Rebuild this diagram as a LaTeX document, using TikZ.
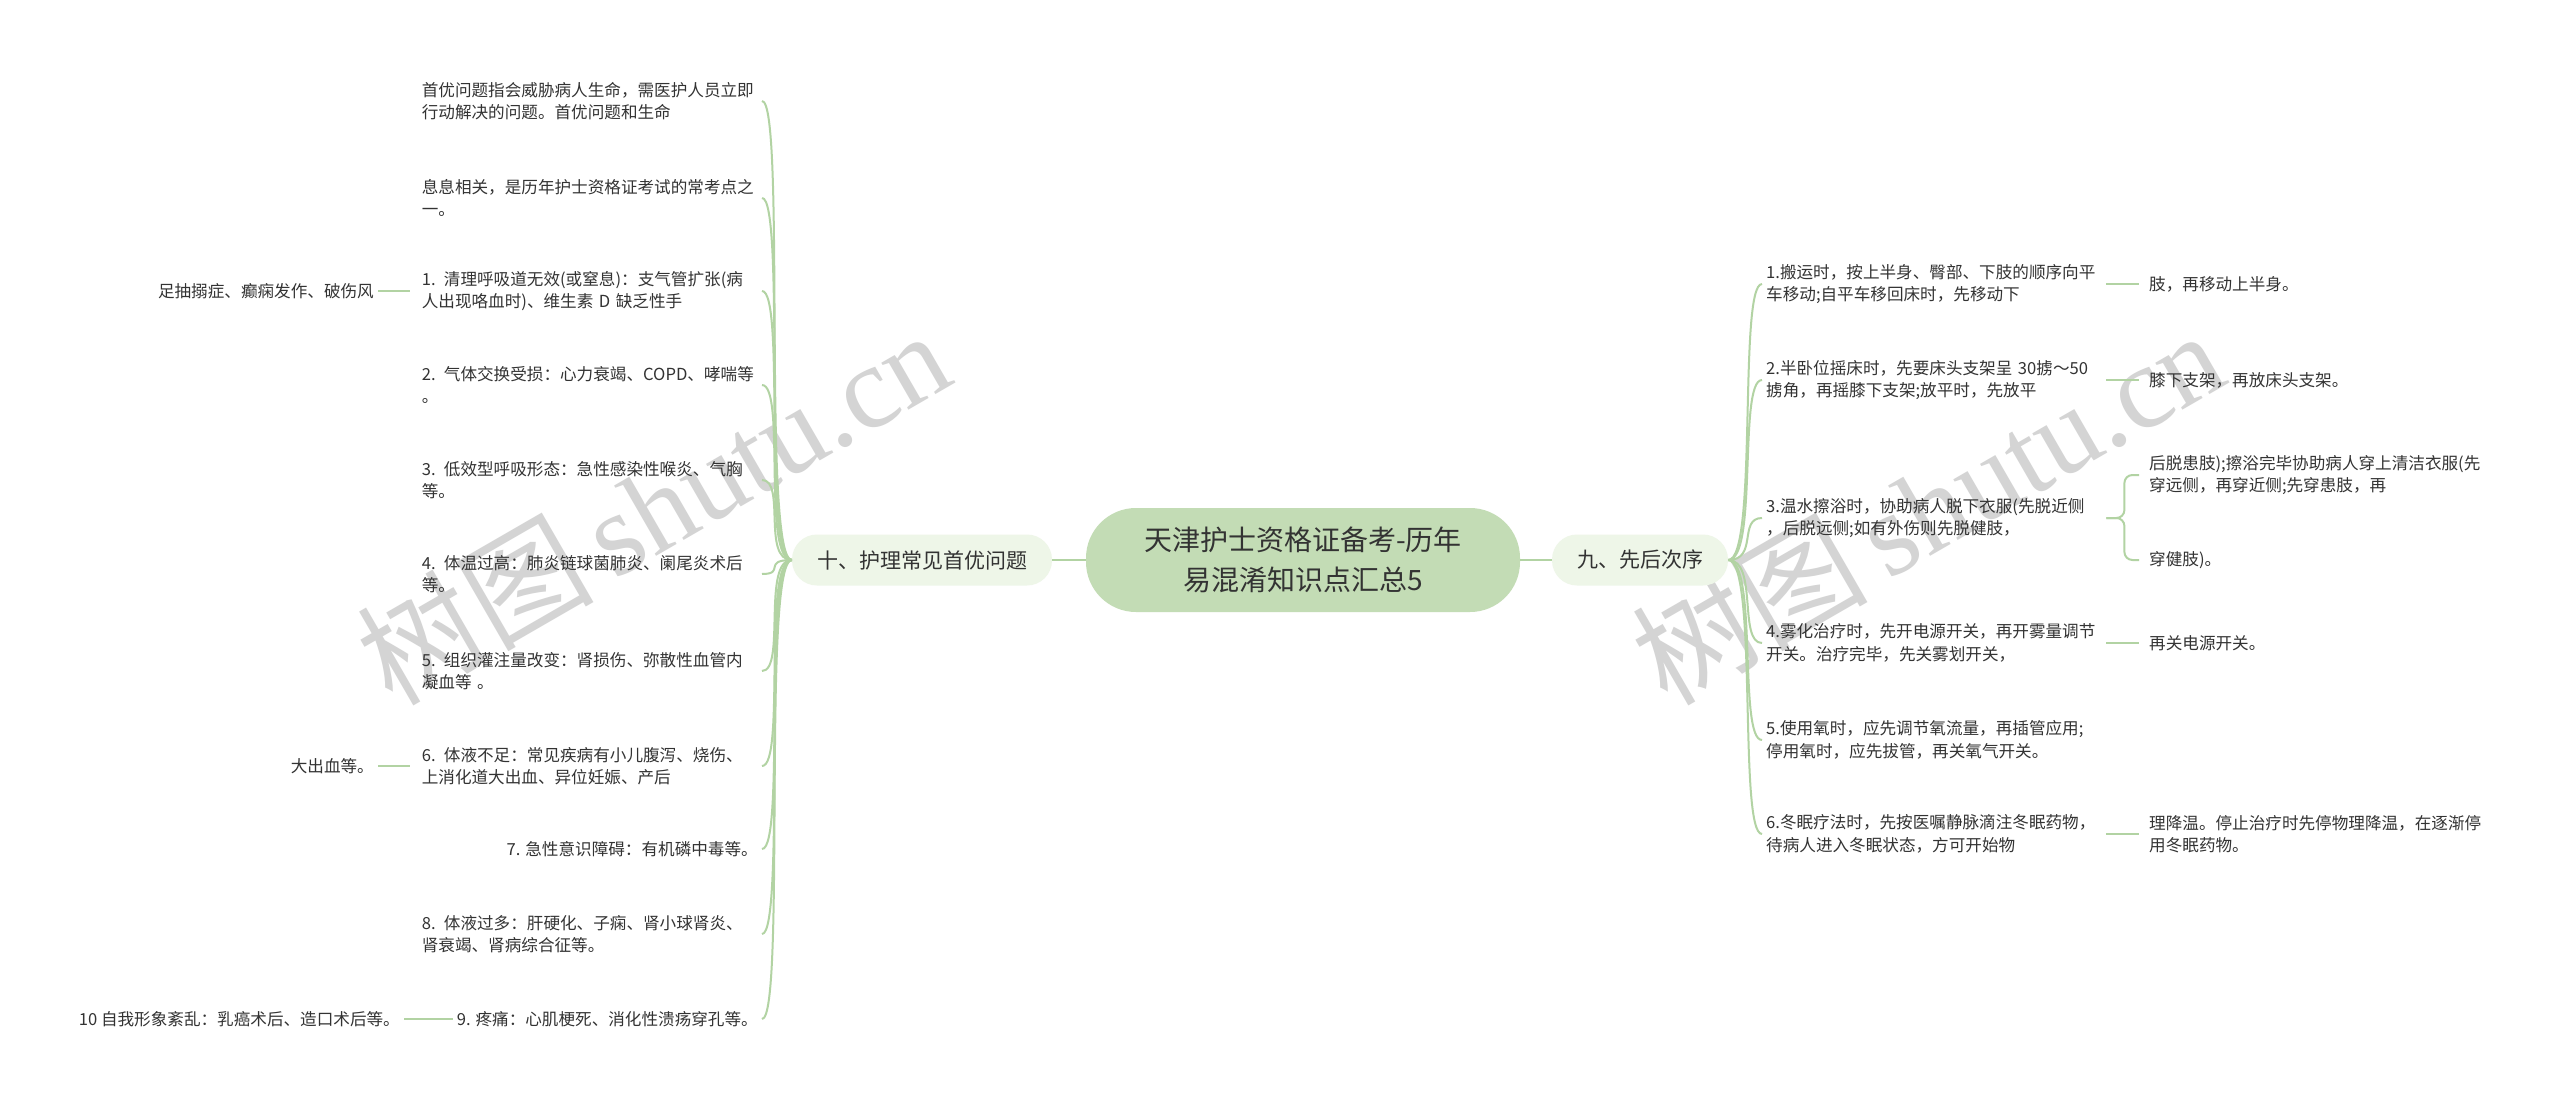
\documentclass[tikz,border=0pt]{standalone}
\usepackage{fontspec}
\setmainfont{Noto Sans CJK SC}
\newfontfamily\wmserif{Liberation Serif}
\usetikzlibrary{calc}
\definecolor{linec}{HTML}{B2D3A3}
\definecolor{rootc}{HTML}{C3DCB5}
\definecolor{branchc}{HTML}{EEF6E8}
\definecolor{txtc}{HTML}{333333}
\definecolor{wmc}{HTML}{D4D4D4}
\begin{document}
\begin{tikzpicture}[x=1pt,y=-1pt,
  rootbox/.style={fill=rootc, rounded corners=50pt, minimum width=434pt, minimum height=104pt, align=center, font=\fontsize{28}{40}\selectfont, text=txtc},
  branchbox/.style={fill=branchc, rounded corners=25pt, minimum height=51pt, inner xsep=25pt, font=\fontsize{21}{26}\selectfont, text=txtc},
  leafl/.style={anchor=east, text width=336pt, align=left, inner xsep=4pt, inner ysep=3pt, font=\fontsize{16.6}{22.5}\selectfont, text=txtc},
  leafs/.style={anchor=east, inner xsep=4pt, inner ysep=3pt, font=\fontsize{16.6}{22.5}\selectfont, text=txtc},
  leafr/.style={anchor=west, text width=336pt, align=left, inner xsep=4pt, inner ysep=3pt, font=\fontsize{16.6}{22.5}\selectfont, text=txtc},
  kidr/.style={anchor=west, align=left, inner xsep=10pt, inner ysep=3pt, font=\fontsize{16.6}{22.5}\selectfont, text=txtc},
  kidl/.style={anchor=east, align=right, inner xsep=4pt, inner ysep=3pt, font=\fontsize{16.6}{22.5}\selectfont, text=txtc},
  conn/.style={draw=linec, line width=2pt},
  wm/.style={text=wmc, font=\fontsize{118}{118}\selectfont, rotate=30, inner sep=0pt}
]
\useasboundingbox (0,0) rectangle (2560,1108);
\fill[white] (0,0) rectangle (2560,1108);

% watermarks
\node[wm] (wm1) at (653,506) {树图\,{\wmserif shutu.cn}};
\node[wm] (wm2) at (1927,506) {树图\,{\wmserif shutu.cn}};

% root and branches
\node[rootbox] (root) at (1303,560) {天津护士资格证备考-历年\\易混淆知识点汇总5};
\node[branchbox] (lb) at (922,560) {十、护理常见首优问题};
\node[branchbox] (rb) at (1640,560) {九、先后次序};

% left leaves
\node[leafl] (l1) at (762,101) {首优问题指会威胁病人生命，需医护人员立即\\行动解决的问题。首优问题和生命};
\node[leafl] (l2) at (762,198) {息息相关，是历年护士资格证考试的常考点之\\一。};
\node[leafl] (l3) at (762,291) {1. 清理呼吸道无效(或窒息)：支气管扩张(病\\人出现咯血时)、维生素 D 缺乏性手};
\node[leafl] (l4) at (762,385) {2. 气体交换受损：心力衰竭、COPD、哮喘等\\。};
\node[leafl] (l5) at (762,480) {3. 低效型呼吸形态：急性感染性喉炎、气胸\\等。};
\node[leafl] (l6) at (762,574) {4. 体温过高：肺炎链球菌肺炎、阑尾炎术后\\等。};
\node[leafl] (l7) at (762,671) {5. 组织灌注量改变：肾损伤、弥散性血管内\\凝血等 。};
\node[leafl] (l8) at (762,766) {6. 体液不足：常见疾病有小儿腹泻、烧伤、\\上消化道大出血、异位妊娠、产后};
\node[leafs] (l9) at (762,849) {7. 急性意识障碍：有机磷中毒等。};
\node[leafl] (l10) at (762,934) {8. 体液过多：肝硬化、子痫、肾小球肾炎、\\肾衰竭、肾病综合征等。};
\node[leafs] (l11) at (762,1019) {9. 疼痛：心肌梗死、消化性溃疡穿孔等。};

% left grandchildren
\node[kidl] (k3) at (378,291) {足抽搦症、癫痫发作、破伤风};
\node[kidl] (k8) at (378,766) {大出血等。};
\node[kidl] (k11) at (404,1019) {10 自我形象紊乱：乳癌术后、造口术后等。};

% right leaves
\node[leafr] (r1) at (1762,284) {1.搬运时，按上半身、臀部、下肢的顺序向平\\车移动;自平车移回床时，先移动下};
\node[leafr] (r2) at (1762,380) {2.半卧位摇床时，先要床头支架呈 30掳～50\\掳角，再摇膝下支架;放平时，先放平};
\node[leafr] (r3) at (1762,518) {3.温水擦浴时，协助病人脱下衣服(先脱近侧\\，后脱远侧;如有外伤则先脱健肢，};
\node[leafr] (r4) at (1762,643) {4.雾化治疗时，先开电源开关，再开雾量调节\\开关。治疗完毕，先关雾划开关，};
\node[leafr] (r5) at (1762,740) {5.使用氧时，应先调节氧流量，再插管应用;\\停用氧时，应先拔管，再关氧气开关。};
\node[leafr] (r6) at (1762,834) {6.冬眠疗法时，先按医嘱静脉滴注冬眠药物，\\待病人进入冬眠状态，方可开始物};

% right grandchildren
\node[kidr] (c1) at (2139,284) {肢，再移动上半身。};
\node[kidr] (c2) at (2139,380) {膝下支架，再放床头支架。};
\node[kidr] (c3a) at (2139,475) {后脱患肢);擦浴完毕协助病人穿上清洁衣服(先\\穿远侧，再穿近侧;先穿患肢，再};
\node[kidr] (c3b) at (2139,560) {穿健肢)。};
\node[kidr] (c4) at (2139,643) {再关电源开关。};
\node[kidr] (c6) at (2139,834) {理降温。停止治疗时先停物理降温，在逐渐停\\用冬眠药物。};

% connectors
\draw[conn] (root.west) -- (lb.east);
\draw[conn] (root.east) -- (rb.west);
\foreach \n in {l1,l2,l3,l4,l5,l6,l7,l8,l9,l10,l11}
  \draw[conn] (lb.west) .. controls ($(lb.west)+(-30,0)$) and ($(\n.east)+(24,0)$) .. (\n.east);
\foreach \n in {r1,r2,r3,r4,r5,r6}
  \draw[conn] (rb.east) .. controls ($(rb.east)+(30,0)$) and ($(\n.west)+(-24,0)$) .. (\n.west);
\draw[conn, shorten >=8pt] (k3.east) -- (l3.west);
\draw[conn, shorten >=8pt] (k8.east) -- (l8.west);
\draw[conn] (k11.east) -- (l11.west);
\draw[conn] (r1.east) -- (c1.west);
\draw[conn] (r2.east) -- (c2.west);
\draw[conn, rounded corners=8pt] (r3.east) -- ++(18,0) |- (c3a.west);
\draw[conn, rounded corners=8pt] (r3.east) -- ++(18,0) |- (c3b.west);
\draw[conn] (r4.east) -- (c4.west);
\draw[conn] (r6.east) -- (c6.west);
\end{tikzpicture}
\end{document}
